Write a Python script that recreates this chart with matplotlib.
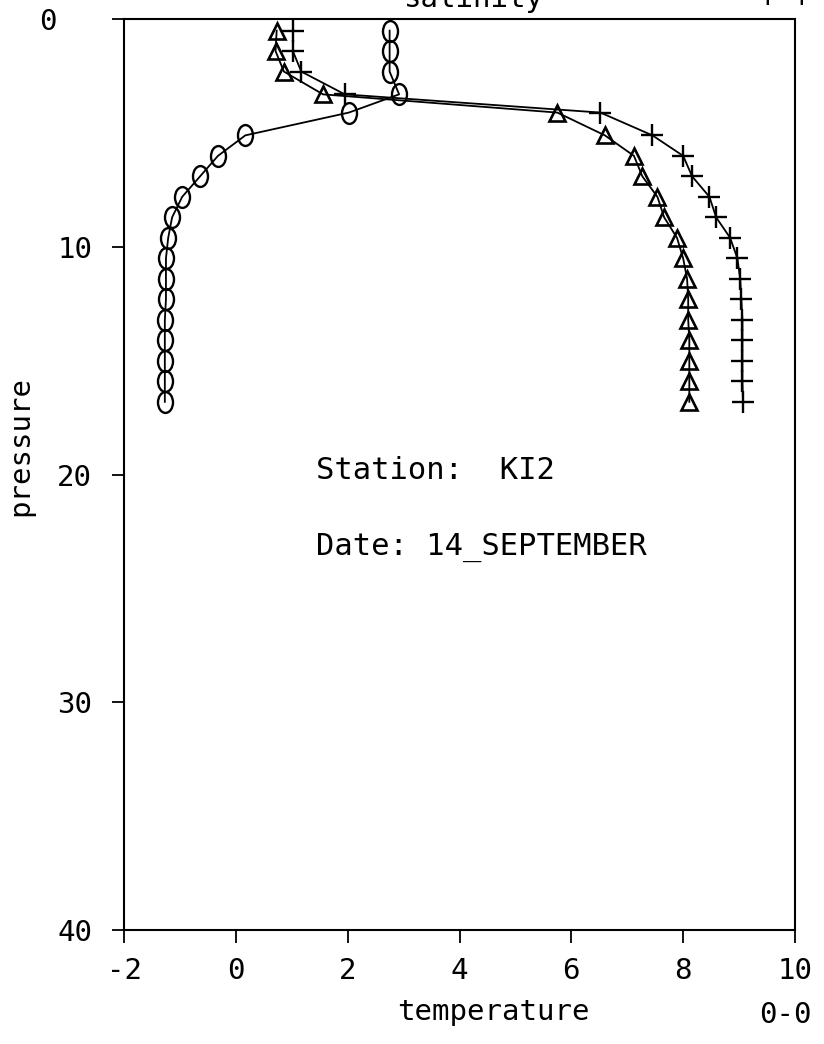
import numpy as np
import matplotlib
matplotlib.use("Agg")
import matplotlib.pyplot as plt
from matplotlib.path import Path
from matplotlib.transforms import Affine2D

# --- Data ---
pressure = [0.5, 1.4, 2.3, 3.3, 4.1, 5.1, 6.0, 6.9, 7.8, 8.7,
            9.6, 10.5, 11.4, 12.3, 13.2, 14.1, 15.0, 15.9, 16.8]

# o-o series, temperature
temperature = [2.75, 2.75, 2.75, 2.92, 2.02, 0.17, -0.32, -0.64, -0.96, -1.14,
               -1.21, -1.25, -1.25, -1.25, -1.27, -1.27, -1.27, -1.27, -1.27]

# +-+ series, salinity (as placed on the plot's x scale)
salinity = [1.02, 1.02, 1.17, 1.95, 6.52, 7.45, 8.00, 8.16, 8.47, 8.59,
            8.84, 8.97, 9.02, 9.04, 9.06, 9.06, 9.06, 9.06, 9.07]

# triangle series (as placed on the plot's x scale)
density = [0.73, 0.71, 0.86, 1.56, 5.75, 6.60, 7.12, 7.27, 7.54, 7.66,
           7.89, 8.00, 8.07, 8.09, 8.09, 8.11, 8.11, 8.11, 8.11]

x_ticks = [-2, 0, 2, 4, 6, 8, 10]
y_ticks = [0, 10, 20, 30, 40]
y_ticklabels = ["0  ", "10", "20", "30", "40"]

station = "KI2"
date = "14_SEPTEMBER"

plt.rcParams['font.family'] = ['DejaVu Sans Mono', 'DejaVu Sans']
plt.rcParams['axes.unicode_minus'] = False
FS = 21

fig = plt.figure(figsize=(8.24, 10.44), dpi=100)
ax = fig.add_axes([0.1505, 0.109, 0.8143, 0.8726])

# tall oval marker like the plotter's "0" symbol
oval = Path.unit_circle().transformed(Affine2D().scale(0.72, 1.0))

line_kw = dict(color='black', lw=1.3)
ax.plot(temperature, pressure, marker=oval, ms=15, mfc='none', mec='black', mew=1.7, **line_kw)
ax.plot(salinity, pressure, marker='+', ms=16, mec='black', mew=1.7, **line_kw)
ax.plot(density, pressure, marker='^', ms=11, mfc='none', mec='black', mew=1.9, **line_kw)

ax.set_xlim(-2, 10)
ax.set_ylim(40, 0)
ax.set_xticks(x_ticks)
ax.set_yticks(y_ticks)
ax.set_yticklabels(y_ticklabels)
ax.tick_params(axis='both', direction='out', length=9, width=1.3, labelsize=FS)
ax.tick_params(axis='x', pad=10)
ax.tick_params(axis='y', pad=14)
for s in ax.spines.values():
    s.set_linewidth(1.5)

ax.set_xlabel("temperature", fontsize=FS, va='center')
ax.xaxis.set_label_coords(0.551, -0.09)
ax.set_ylabel("pressure", fontsize=FS, va='center')
ax.yaxis.set_label_coords(-0.155, 0.532)

ax.text(1.43, 19.8, f"Station:  {station}", fontsize=FS + 1, va='center', ha='left')
ax.text(1.43, 23.2, f"Date: {date}", fontsize=FS + 1, va='center', ha='left')

# salinity axis title at the top, mostly cut off in the original scan
fig.text(0.575, 1 - 7 / 1044, "salinity", fontsize=FS, ha='center', va='baseline')
fig.text(0.953, 1 - 7 / 1044, "+-+", fontsize=FS, ha='center', va='baseline')
fig.text(0.953, 1 - 1015 / 1044, "0-0", fontsize=FS, ha='center', va='center')

fig.savefig("out.png", dpi=100)
